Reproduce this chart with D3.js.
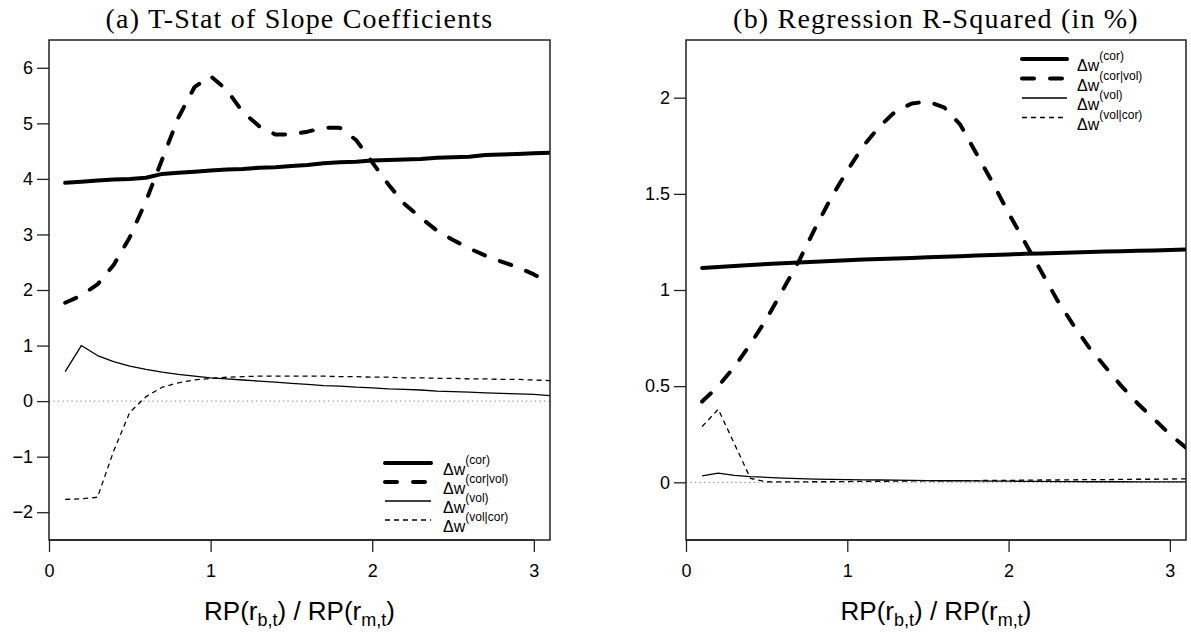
<!DOCTYPE html>
<html><head><meta charset="utf-8">
<script src="https://cdn.jsdelivr.net/npm/d3@7"></script>
<style>
body{margin:0;background:#fff;}
svg{display:block;}
text{font-family:"Liberation Sans",Arial,Helvetica,sans-serif;fill:#000;}
.title{font-family:"Liberation Serif","Times New Roman",serif;}
</style></head>
<body><svg id="c" width="1191" height="633"></svg>
<script>
// ---- data ----
const xs = [0.1,0.2,0.3,0.4,0.5,0.6,0.7,0.8,0.9,1.0,1.1,1.2,1.3,1.4,1.5,1.6,1.7,1.8,1.9,2.0,2.1,2.2,2.3,2.4,2.5,2.6,2.7,2.8,2.9,3.0,3.1];

// Panel (a): T-stat of slope coefficients
const tCor    = [3.93,3.95,3.97,3.99,4.00,4.02,4.09,4.11,4.13,4.15,4.17,4.18,4.20,4.21,4.23,4.25,4.28,4.30,4.31,4.33,4.34,4.35,4.36,4.38,4.39,4.40,4.43,4.44,4.45,4.46,4.47];
const tCorVol = [1.77,1.90,2.10,2.45,2.95,3.60,4.35,5.10,5.65,5.85,5.60,5.20,4.95,4.80,4.80,4.85,4.92,4.92,4.70,4.30,3.90,3.55,3.30,3.07,2.90,2.75,2.62,2.51,2.41,2.28,2.12];
const tVol    = [0.53,1.00,0.82,0.71,0.63,0.57,0.52,0.48,0.45,0.42,0.40,0.38,0.36,0.34,0.32,0.30,0.28,0.27,0.25,0.24,0.22,0.21,0.20,0.18,0.17,0.16,0.15,0.14,0.13,0.12,0.10];
const tVolCor = [-1.77,-1.76,-1.73,-0.90,-0.20,0.08,0.25,0.33,0.38,0.41,0.43,0.44,0.45,0.45,0.45,0.45,0.45,0.44,0.44,0.43,0.43,0.42,0.42,0.41,0.41,0.40,0.40,0.39,0.39,0.38,0.37];

// Panel (b): regression R-squared (in %)
const rCor    = [1.115,1.12,1.125,1.13,1.135,1.139,1.143,1.147,1.151,1.155,1.158,1.161,1.164,1.167,1.17,1.173,1.176,1.179,1.182,1.185,1.188,1.19,1.193,1.195,1.198,1.2,1.202,1.204,1.206,1.208,1.21];
const rCorVol = [0.42,0.50,0.60,0.72,0.85,1.00,1.15,1.32,1.48,1.62,1.75,1.85,1.93,1.97,1.98,1.95,1.86,1.71,1.56,1.40,1.25,1.10,0.95,0.82,0.70,0.60,0.50,0.41,0.33,0.25,0.18];
const rVol    = [0.033,0.048,0.036,0.030,0.026,0.022,0.019,0.017,0.015,0.014,0.013,0.012,0.011,0.010,0.009,0.008,0.008,0.007,0.006,0.006,0.005,0.005,0.004,0.004,0.003,0.003,0.003,0.002,0.002,0.002,0.002];
const rVolCor = [0.29,0.38,0.20,0.02,0.003,0.002,0.002,0.003,0.003,0.004,0.005,0.005,0.006,0.007,0.007,0.008,0.009,0.009,0.010,0.010,0.011,0.012,0.012,0.013,0.014,0.014,0.015,0.016,0.016,0.017,0.018];

const xTicks = [0,1,2,3];
const yTicksA = [-2,-1,0,1,2,3,4,5,6];
const yTicksB = [0,0.5,1,1.5,2];
const titles = ["(a) T-Stat of Slope Coefficients","(b) Regression R-Squared (in %)"];
const legendKeys = ["(cor)","(cor|vol)","(vol)","(vol|cor)"];

// ---- styles ----
const styles = [
  {w:4, dash:null},
  {w:4, dash:"12,16"},
  {w:1.3, dash:null},
  {w:1.3, dash:"5,4"}
];

const svg = d3.select("#c");
const plotTop = 40, plotBottom = 540;

const panels = [
  {left:49, right:550, ylim:[-2.5,6.5], yTicks:yTicksA, series:[tCor,tCorVol,tVol,tVolCor], title:titles[0],
   legend:{x0:385, x1:431, tx:443, y0:463, dy:19}},
  {left:686, right:1186, ylim:[-0.3,2.3], yTicks:yTicksB, series:[rCor,rCorVol,rVol,rVolCor], title:titles[1],
   legend:{x0:1022, x1:1067, tx:1077, y0:59, dy:19.5}}
];

panels.forEach((p,i)=>{
  const g = svg.append("g");
  const x = d3.scaleLinear().domain([0,3.1]).range([p.left,p.right]);
  const y = d3.scaleLinear().domain(p.ylim).range([plotBottom,plotTop]);
  const cid = "clip"+i;
  svg.append("clipPath").attr("id",cid).append("rect")
    .attr("x",p.left).attr("y",plotTop).attr("width",p.right-p.left).attr("height",plotBottom-plotTop);

  g.append("line").attr("clip-path",`url(#${cid})`)
    .attr("x1",p.left).attr("x2",p.right).attr("y1",y(0)).attr("y2",y(0))
    .attr("stroke","#9a9a9a").attr("stroke-width",1.2).attr("stroke-dasharray","1.3,3.2");

  const line = d3.line().x((d,k)=>x(xs[k])).y(d=>y(d));
  p.series.forEach((s,k)=>{
    g.append("path").datum(s).attr("clip-path",`url(#${cid})`)
      .attr("d",line).attr("fill","none").attr("stroke","#000")
      .attr("stroke-width",styles[k].w)
      .attr("stroke-linecap", k<2 ? "round":"butt")
      .attr("stroke-linejoin","round")
      .attr("stroke-dasharray",styles[k].dash);
  });

  g.append("rect").attr("x",p.left).attr("y",plotTop).attr("width",p.right-p.left).attr("height",plotBottom-plotTop)
    .attr("fill","none").attr("stroke","#222").attr("stroke-width",1.5);

  const xa = g.append("g").attr("transform",`translate(0,${plotBottom})`)
    .call(d3.axisBottom(x).tickValues(xTicks).tickSize(12).tickPadding(12).tickFormat(d3.format("d")));
  xa.select(".domain").remove();
  xa.append("line").attr("x1",x(xTicks[0])).attr("x2",x(xTicks[xTicks.length-1])).attr("stroke","#222").attr("stroke-width",1.5);
  xa.selectAll(".tick line").attr("stroke","#222").attr("stroke-width",1.3);
  xa.selectAll("text").style("font-size","18px").attr("fill","#000");

  const ya = g.append("g").attr("transform",`translate(${p.left},0)`)
    .call(d3.axisLeft(y).tickValues(p.yTicks).tickSize(12).tickPadding(4).tickFormat(d3.format("~g")));
  ya.select(".domain").remove();
  ya.selectAll(".tick line").attr("stroke","#222").attr("stroke-width",1.3);
  ya.selectAll("text").style("font-size","18px").attr("fill","#000");

  svg.append("text").attr("class","title").attr("x",(p.left+p.right)/2).attr("y",28)
    .attr("text-anchor","middle").style("font-size","28px").style("letter-spacing","1.2px").text(p.title);

  const xl = svg.append("text").attr("x",(p.left+p.right)/2).attr("y",620)
    .attr("text-anchor","middle").style("font-size","26px");
  xl.append("tspan").text("RP(r");
  xl.append("tspan").attr("dy",6).style("font-size","18px").text("b,t");
  xl.append("tspan").attr("dy",-6).text(") / RP(r");
  xl.append("tspan").attr("dy",6).style("font-size","18px").text("m,t");
  xl.append("tspan").attr("dy",-6).text(")");

  const L = p.legend;
  legendKeys.forEach((key,k)=>{
    const ly = L.y0 + k*L.dy;
    g.append("line").attr("x1",L.x0).attr("x2",L.x1).attr("y1",ly).attr("y2",ly)
      .attr("stroke","#000").attr("stroke-width",styles[k].w)
      .attr("stroke-linecap", k<2 ? "round":"butt")
      .attr("stroke-dasharray",styles[k].dash);
    const t = g.append("text").attr("x",L.tx).attr("y",ly+12).style("font-size","16px");
    t.append("tspan").text("Δw");
    t.append("tspan").attr("dy",-11).style("font-size","12px").text(key);
  });
});
</script></body></html>
